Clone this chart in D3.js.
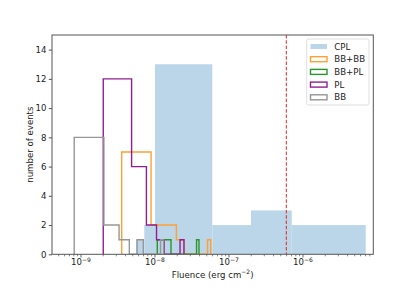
<!DOCTYPE html>
<html><head><meta charset="utf-8">
<script src="https://cdn.jsdelivr.net/npm/d3@7"></script>
<style>body{margin:0;background:#fff;} svg{display:block;font-family:"DejaVu Sans",sans-serif;}</style>
</head><body><svg id="c" width="415" height="291"></svg>
<script>
// ---- data ----
const cplEdges = [5.54e-9, 7.17e-9, 1.0e-8, 5.95e-8, 1.983e-7, 7.04e-7, 7.04e-6];
const cplCounts = [1, 2, 13, 2, 3, 2];
const bbbbRange = [3.55e-9, 5.66e-8];
const bbbbCounts = [7, 2, 2, 1, 0, 0, 0, 0, 0, 1];
const bbplRange = [1.074e-8, 3.93e-8];
const bbplCounts = [1, 1, 0, 0, 0, 0, 0, 0, 0, 1];
const plRange = [2.0e-9, 2.464e-8];
const plCounts = [12, 6, 2, 1, 0, 0, 0, 1];
const bbRange = [8.1e-10, 1.311e-8];
const bbCounts = [8, 2, 1, 0, 1, 0, 0, 0, 0, 1];
const thresholdFluence = 5.95e-7;
const xTickExps = [-9, -8, -7, -6];
const yTicks = [0, 2, 4, 6, 8, 10, 12, 14];
const legendLabels = ["CPL", "BB+BB", "BB+PL", "PL", "BB"];

// ---- layout ----
const W = 415, H = 291;
const m = {l: 52, r: 41.7, t: 35, b: 36.7};
const svg = d3.select("#c");
const x = d3.scaleLog().domain([4.06e-10, 8.91e-6]).range([m.l, W - m.r]);
const y = d3.scaleLinear().domain([0, 15]).range([H - m.b, m.t]);
const axisColor = "#555";
const fs = 8.6;

svg.append("defs").append("clipPath").attr("id", "clip")
  .append("rect").attr("x", m.l).attr("y", m.t).attr("width", W - m.l - m.r).attr("height", H - m.t - m.b);
const plot = svg.append("g").attr("clip-path", "url(#clip)");

// CPL filled histogram
plot.selectAll("rect.cpl").data(cplCounts).join("rect")
  .attr("x", (d, i) => x(cplEdges[i]))
  .attr("width", (d, i) => x(cplEdges[i + 1]) - x(cplEdges[i]))
  .attr("y", d => y(d)).attr("height", d => y(0) - y(d))
  .attr("fill", "rgb(188,214,233)");

// step histograms
function edgesFrom(range, n) {
  const w = (range[1] - range[0]) / n;
  return d3.range(n + 1).map(i => range[0] + i * w);
}
function stepPath(edges, counts) {
  const pts = [[x(edges[0]), y(0)]];
  counts.forEach((c, i) => { pts.push([x(edges[i]), y(c)]); pts.push([x(edges[i + 1]), y(c)]); });
  pts.push([x(edges[edges.length - 1]), y(0)]);
  return d3.line()(pts);
}
const steps = [
  {range: bbbbRange, counts: bbbbCounts, color: "rgb(255,160,50)"},
  {range: bbplRange, counts: bbplCounts, color: "rgb(40,150,40)"},
  {range: plRange, counts: plCounts, color: "rgb(145,30,145)"},
  {range: bbRange, counts: bbCounts, color: "rgb(150,150,150)"}
];
steps.forEach(s => {
  plot.append("path").attr("d", stepPath(edgesFrom(s.range, s.counts.length), s.counts))
    .attr("fill", "none").attr("stroke", s.color).attr("stroke-width", 1.4).attr("stroke-linejoin", "miter");
});

// threshold line
plot.append("line").attr("x1", x(thresholdFluence)).attr("x2", x(thresholdFluence))
  .attr("y1", m.t).attr("y2", H - m.b)
  .attr("stroke", "#e8221c").attr("stroke-width", 1).attr("stroke-dasharray", "3.5,1.8");

// frame
svg.append("rect").attr("x", m.l).attr("y", m.t).attr("width", W - m.l - m.r).attr("height", H - m.t - m.b)
  .attr("fill", "none").attr("stroke", axisColor).attr("stroke-width", 1);

// y axis
const yAxis = svg.append("g").attr("transform", `translate(${m.l},0)`)
  .call(d3.axisLeft(y).tickValues(yTicks).tickSize(3.2).tickPadding(2.4));
yAxis.select(".domain").remove();
yAxis.selectAll("line").attr("stroke", axisColor);
yAxis.selectAll("text").attr("font-size", fs).attr("fill", "#222").attr("font-family", "DejaVu Sans");

// x axis: minor ticks
const minor = [];
for (let e = -10; e <= -5; e++) for (let k = 2; k <= 9; k++) {
  const v = k * Math.pow(10, e);
  if (v >= x.domain()[0] && v <= x.domain()[1]) minor.push(v);
}
const xg = svg.append("g").attr("transform", `translate(0,${H - m.b})`);
xg.selectAll("line.minor").data(minor).join("line")
  .attr("x1", d => x(d)).attr("x2", d => x(d)).attr("y1", 0).attr("y2", 2)
  .attr("stroke", axisColor).attr("stroke-width", 0.7);
const majors = xTickExps.map(e => Math.pow(10, e));
xg.selectAll("line.major").data(majors).join("line")
  .attr("x1", d => x(d)).attr("x2", d => x(d)).attr("y1", 0).attr("y2", 3.2)
  .attr("stroke", axisColor).attr("stroke-width", 0.9);
const tl = xg.selectAll("text.tl").data(xTickExps).join("text")
  .attr("x", e => x(Math.pow(10, e))).attr("y", 11.2)
  .attr("text-anchor", "middle").attr("font-size", fs).attr("fill", "#222");
tl.append("tspan").text("10");
tl.append("tspan").attr("dy", -3.7).attr("font-size", fs * 0.7).text(e => "\u2212" + Math.abs(e));

// axis labels
const xl = svg.append("text").attr("x", (m.l + W - m.r) / 2).attr("y", 277.5)
  .attr("text-anchor", "middle").attr("font-size", fs).attr("fill", "#222");
xl.append("tspan").text("Fluence (erg cm");
xl.append("tspan").attr("dy", -3.5).attr("font-size", fs * 0.7).text("\u22122");
xl.append("tspan").attr("dy", 3.5).text(")");
svg.append("text").attr("transform", `translate(33.3,${(m.t + H - m.b) / 2}) rotate(-90)`)
  .attr("text-anchor", "middle").attr("font-size", fs).attr("fill", "#222").text("number of events");

// legend
const lg = svg.append("g");
lg.append("rect").attr("x", 306.7).attr("y", 39).attr("width", 62.3).attr("height", 66).attr("rx", 2)
  .attr("fill", "#fff").attr("fill-opacity", 0.8).attr("stroke", "#d6d6d6").attr("stroke-width", 0.8);
const legendColors = ["rgb(188,214,233)", ...steps.map(s => s.color)];
legendLabels.forEach((lab, i) => {
  const cy = 46.5 + i * 12.7;
  const r = lg.append("rect").attr("x", 310.5).attr("y", cy - 2.5).attr("width", 16.5).attr("height", 5);
  if (i === 0) r.attr("fill", legendColors[0]);
  else r.attr("fill", "none").attr("stroke", legendColors[i]).attr("stroke-width", 1.4);
  lg.append("text").attr("x", 334.3).attr("y", cy + 3).attr("font-size", fs).attr("fill", "#222").text(lab);
});
</script></body></html>
